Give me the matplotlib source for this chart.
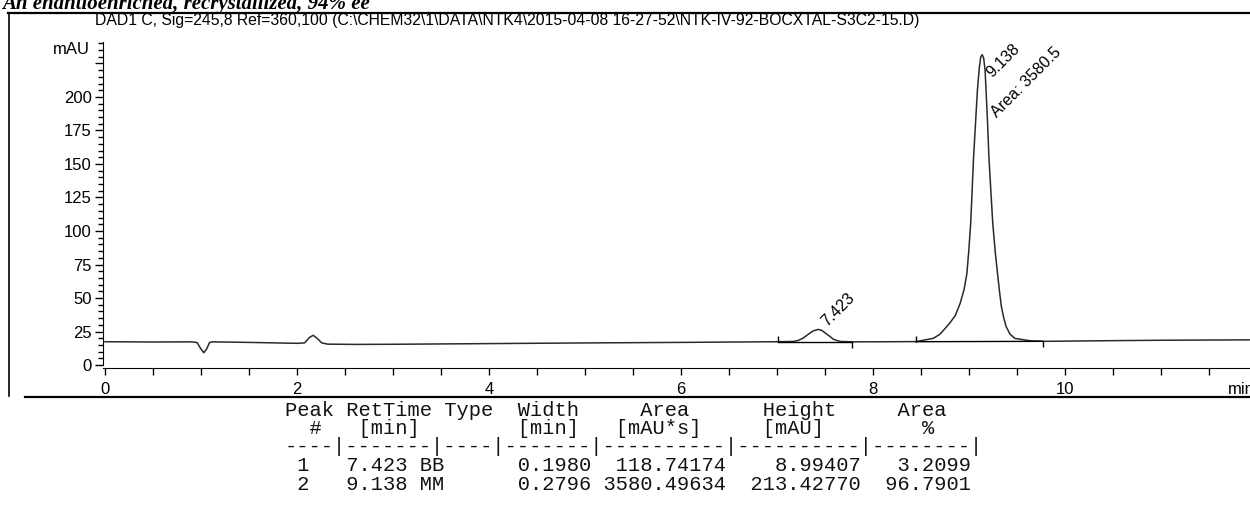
import matplotlib
matplotlib.use("Agg")
import matplotlib.pyplot as plt
from matplotlib.lines import Line2D
from matplotlib.ticker import MultipleLocator, FixedLocator, FuncFormatter

# ----------------------------- #
# datos leidos del cromatograma
# ----------------------------- #
tiempo = [0.00, 0.50, 0.90, 0.96, 1.00, 1.03, 1.06, 1.09, 1.12, 1.50, 2.00, 2.08, 2.13, 2.17,
          2.21, 2.26, 2.32, 2.60, 3.00, 4.00, 5.00, 6.00, 7.00, 7.17, 7.22, 7.27, 7.34, 7.38,
          7.43, 7.47, 7.52, 7.56, 7.59, 7.66, 7.80, 8.20, 8.45, 8.63, 8.70, 8.80, 8.86, 8.91,
          8.95, 8.98, 9.00, 9.02, 9.035, 9.05, 9.07, 9.09, 9.11, 9.125, 9.14, 9.155, 9.17,
          9.18, 9.195, 9.21, 9.23, 9.25, 9.275, 9.30, 9.32, 9.34, 9.365, 9.39, 9.43, 9.48,
          9.65, 9.80, 10.5, 11.0, 11.93]
senal = [17.4, 17.2, 17.3, 16.8, 12.0, 9.2, 12.0, 16.8, 17.3, 16.9, 16.2, 16.5, 20.5, 22.2,
         20.0, 16.5, 15.6, 15.4, 15.5, 16.0, 16.5, 16.9, 17.4, 17.6, 18.3, 19.9, 23.6, 25.5,
         26.6, 25.8, 23.1, 21.0, 19.2, 17.6, 17.3, 17.4, 17.5, 19.9, 23.0, 31.1, 37.0, 46.0,
         56.0, 68.0, 85.0, 105.7, 130.0, 155.0, 180.0, 205.0, 222.0, 230.0, 231.5, 229.0, 220.0,
         205.0, 182.0, 155.0, 130.0, 105.7, 85.0, 68.0, 55.0, 43.5, 35.0, 28.6, 23.0, 19.9,
         18.0, 17.7, 18.2, 18.5, 18.8]

# lineas base de integracion (inicio, fin)
base_t = [(7.01, 7.78), (8.45, 9.77)]
base_v = [(17.4, 17.4), (17.4, 17.7)]

# etiquetas de picos
pico_t = [7.52, 9.24]
pico_v = [28.5, 214.0]
pico_txt = ["7.423", "9.138"]
area_t = 9.29
area_v = 184.0
area_txt = "Area: 3580.5"

# tabla de resultados
tabla = [
    "Peak RetTime Type  Width     Area      Height     Area  ",
    "  #   [min]        [min]   [mAU*s]     [mAU]        %   ",
    "----|-------|----|-------|----------|----------|--------|",
    " 1   7.423 BB      0.1980  118.74174    8.99407   3.2099",
    " 2   9.138 MM      0.2796 3580.49634  213.42770  96.7901",
]

encabezado = "DAD1 C, Sig=245,8 Ref=360,100 (C:\\CHEM32\\1\\DATA\\NTK4\\2015-04-08 16-27-52\\NTK-IV-92-BOCXTAL-S3C2-15.D)"
titulo = "An enantioenriched, recrystallized, 94% ee"

plt.rcParams['font.family'] = ['Liberation Sans', 'DejaVu Sans']

W, H = 1250, 514
fig = plt.figure(figsize=(W / 100, H / 100), dpi=100)

# ejes del cromatograma
ax = fig.add_axes([103 / W, 1 - 368.4 / H, 1 - 103 / W, (368.4 - 42) / H])
ax.plot(tiempo, senal, color='#2a2a2a', lw=1.1)
for (t0, t1), (v0, v1) in zip(base_t, base_v):
    ax.plot([t0, t1], [v0, v1], color='black', lw=1.0)
    ax.vlines(t0, v0, v0 + 4.5, color='black', lw=1.0)
    ax.vlines(t1, v1 - 4.5, v1, color='black', lw=1.0)

for t, v, s in zip(pico_t, pico_v, pico_txt):
    ax.text(t, v, s, rotation=45, rotation_mode='anchor', ha='left', va='baseline', fontsize=11.5)
ax.text(area_t, area_v, area_txt, rotation=45, rotation_mode='anchor', ha='left', va='baseline',
        fontsize=11.5)

ax.set_xlim(-0.02, 11.93)
ax.set_ylim(-2.5, 241)
for s in ['top', 'right']:
    ax.spines[s].set_visible(False)
ax.spines['left'].set_bounds(0, 241)

ax.xaxis.set_major_locator(MultipleLocator(2))
ax.xaxis.set_minor_locator(MultipleLocator(0.5))
ax.yaxis.set_major_locator(FixedLocator(range(0, 226, 25)))
ax.yaxis.set_major_formatter(FuncFormatter(lambda v, p: "" if v > 200 else f"{int(v)}"))
ax.yaxis.set_minor_locator(MultipleLocator(5))
ax.tick_params(axis='x', which='both', direction='out', length=5, width=1, labelsize=12, pad=5)
ax.tick_params(axis='y', which='major', direction='out', length=6, width=1, labelsize=12, pad=2)
ax.tick_params(axis='y', which='minor', direction='out', length=3.5, width=1)

fig.text(90 / W, 1 - 50 / H, "mAU", ha='right', va='center', fontsize=12)
fig.text(1228 / W, 1 - 390 / H, "min", ha='left', va='center', fontsize=12)

# marco del reporte
fig.add_artist(Line2D([8 / W, 1], [1 - 12.5 / H, 1 - 12.5 / H], transform=fig.transFigure,
                      color='black', lw=1.6))
fig.add_artist(Line2D([9 / W, 9 / W], [1 - 12.5 / H, 1 - 396 / H], transform=fig.transFigure,
                      color='black', lw=1.2))
fig.add_artist(Line2D([25 / W, 1], [1 - 397 / H, 1 - 397 / H], transform=fig.transFigure,
                      color='black', lw=1.6))

fig.text(95 / W, 1 - 20.5 / H, encabezado, ha='left', va='center', fontsize=11.3)
fig.text(2 / W, 1 - 9.5 / H, titulo, ha='left', va='baseline', fontsize=15,
         family=['Liberation Serif'], weight='bold', style='italic')

y0 = 410
for i, fila in enumerate(tabla):
    fig.text(285 / W, 1 - (y0 + i * 18.5) / H, fila, ha='left', va='center', fontsize=14.7,
             family=['Liberation Mono'], color='#111111')

fig.savefig("out.png", dpi=100)
